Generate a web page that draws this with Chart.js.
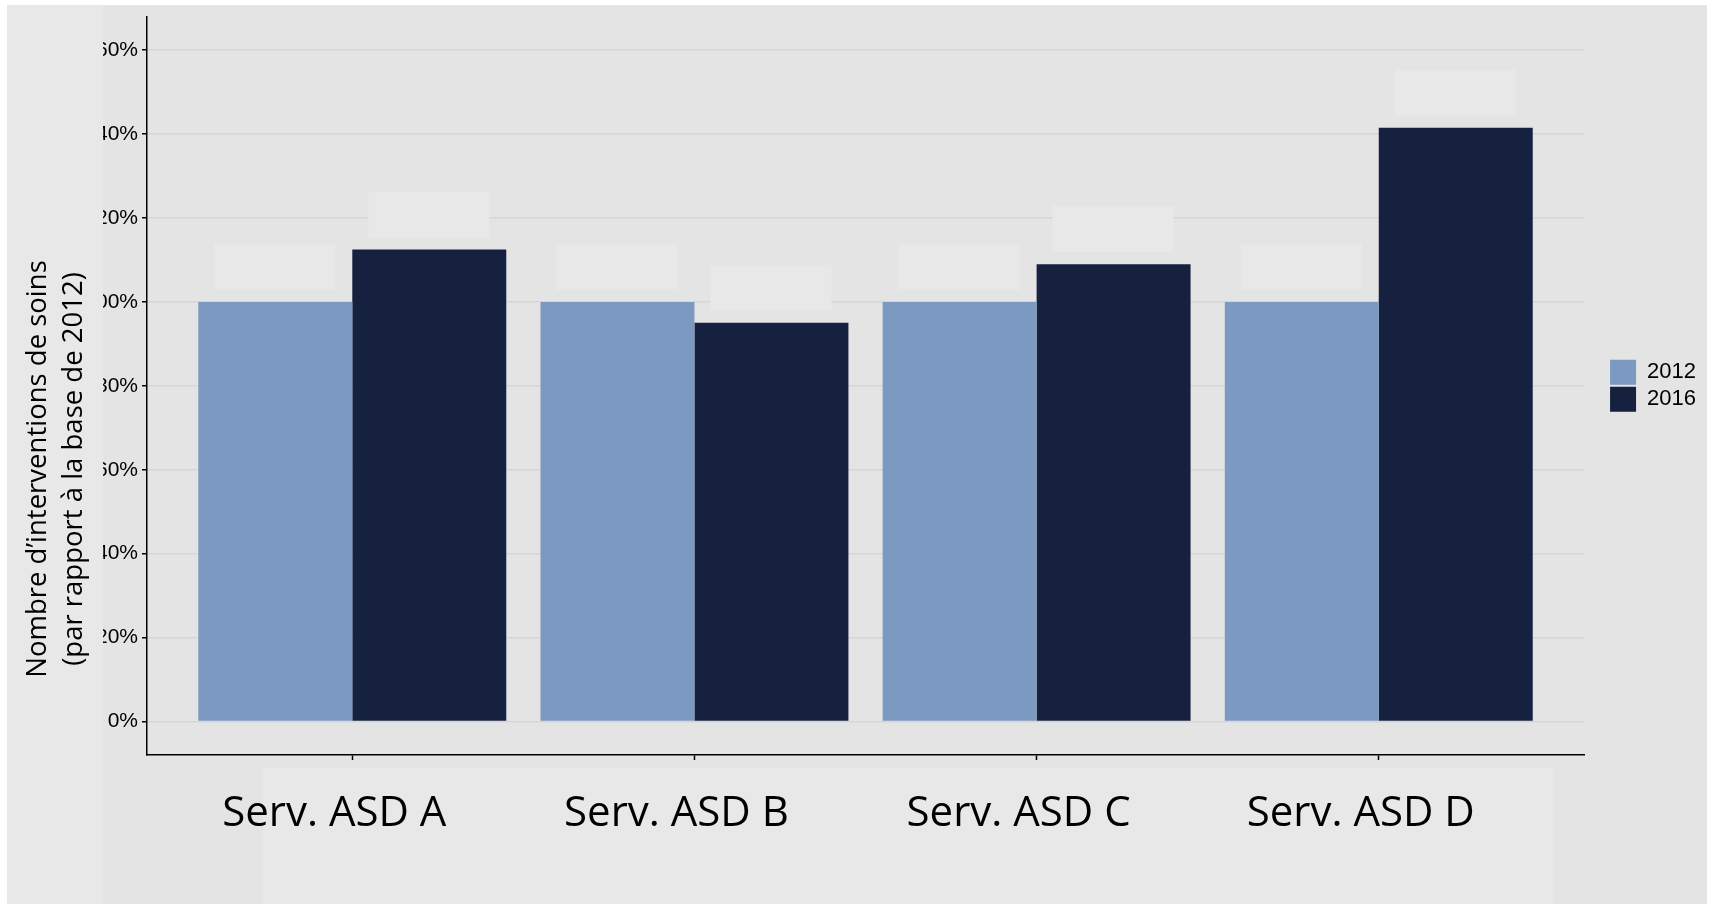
<!DOCTYPE html>
<html lang="fr">
<head>
<meta charset="utf-8">
<title>Interventions de soins 2012 / 2016</title>
<script src="https://cdn.jsdelivr.net/npm/chart.js@4.4.1/dist/chart.umd.min.js"></script>
<style>
  html, body { margin: 0; padding: 0; background: #fff; }
  #chart { display: block; }
</style>
</head>
<body>
<canvas id="chart" width="1712" height="904"></canvas>
<script>
// services ASD, volume relatif à 2012 (en %)
const categories = ['Serv. ASD A', 'Serv. ASD B', 'Serv. ASD C', 'Serv. ASD D'];
const years = ['2012', '2016'];
const values2012 = [100, 100, 100, 100];
const values2016 = [112.5, 95, 109, 141.5];
const yTicks = [0, 20, 40, 60, 80, 100, 120, 140, 160];

const yTitle = ['Nombre d\u2019interventions de soins', '(par rapport \u00e0 la base de 2012)'];

const BG = '#e4e4e4';
const PANEL = '#e8e8e8';
const tickFont = { family: '"Liberation Sans", Arial, sans-serif', size: 21 };
const catFont = { family: '"Open Sans", sans-serif', size: 42 };

const toPoints = arr => arr.map((v, i) => ({ x: i, y: v }));

// fond gris, cadre blanc, zone claire sous l'axe x
const backdrop = {
  id: 'backdrop',
  beforeDraw(chart) {
    const { ctx, width, height } = chart;
    ctx.save();
    ctx.fillStyle = '#fff';
    ctx.fillRect(0, 0, width, height);
    ctx.fillStyle = BG;
    ctx.fillRect(7, 5, width - 12, height - 5);
    ctx.fillStyle = PANEL;
    ctx.fillRect(263, 768, 1291, height - 768);
    ctx.restore();
  }
};

// cases vides au-dessus de chaque barre
const labelBoxes = {
  id: 'labelBoxes',
  beforeDatasetsDraw(chart) {
    const { ctx } = chart;
    ctx.save();
    ctx.fillStyle = PANEL;
    chart.data.datasets.forEach((ds, di) => {
      chart.getDatasetMeta(di).data.forEach(bar => {
        ctx.fillRect(bar.x - 61, bar.y - 12 - 46, 121, 46);
      });
    });
    ctx.restore();
  }
};

// bandeau gauche avec le titre de l'axe y (recouvre le début des graduations)
const yTitleBand = {
  id: 'yTitleBand',
  afterDraw(chart) {
    const { ctx, height } = chart;
    ctx.save();
    ctx.fillStyle = PANEL;
    ctx.fillRect(7, 5, 96, height - 5);
    ctx.fillStyle = '#000';
    ctx.font = '27.5px "Open Sans", sans-serif';
    ctx.textAlign = 'center';
    ctx.textBaseline = 'middle';
    [38.5, 74.5].forEach((x, i) => {
      ctx.save();
      ctx.translate(x, 469);
      ctx.rotate(-Math.PI / 2);
      ctx.fillText(yTitle[i], 0, 0);
      ctx.restore();
    });
    ctx.restore();
  }
};

new Chart(document.getElementById('chart'), {
  type: 'bar',
  data: {
    datasets: [
      { label: years[0], data: toPoints(values2012), backgroundColor: '#7b99c1', borderWidth: 0 },
      { label: years[1], data: toPoints(values2016), backgroundColor: '#15213f', borderWidth: 0 }
    ]
  },
  options: {
    responsive: false,
    animation: false,
    devicePixelRatio: 1,
    layout: { padding: { left: 0, top: 13, right: 6, bottom: 0 } },
    datasets: { bar: { barPercentage: 1, categoryPercentage: 0.9 } },
    plugins: {
      tooltip: { enabled: false },
      legend: {
        position: 'right',
        fullSize: false,
        labels: {
          boxWidth: 26, boxHeight: 25, padding: 2,
          color: '#000', font: { family: '"Liberation Sans", Arial, sans-serif', size: 22 }
        }
      }
    },
    scales: {
      x: {
        type: 'linear',
        min: -0.6, max: 3.6,
        offset: false,
        afterFit: s => { s.height = 149; },
        afterBuildTicks: s => { s.ticks = categories.map((_, i) => ({ value: i })); },
        grid: { display: true, offset: false, drawOnChartArea: false, color: 'transparent', tickColor: '#000', tickLength: 5, tickWidth: 1.5 },
        border: { color: '#000', width: 1.5 },
        ticks: {
          color: '#000', font: catFont, padding: 29, labelOffset: -18, maxRotation: 0,
          callback: v => categories[v]
        }
      },
      y: {
        min: -8, max: 168,
        afterFit: s => { s.width = 147; },
        afterBuildTicks: s => { s.ticks = yTicks.map(v => ({ value: v })); },
        grid: { color: '#d5d5d5', lineWidth: 1.5, tickColor: '#000', tickLength: 5, tickWidth: 1.5 },
        border: { color: '#000', width: 1.5 },
        ticks: { color: '#000', font: tickFont, padding: 4, callback: v => v + '%' }
      },
      gap: {
        type: 'linear',
        position: 'right',
        afterFit: s => { s.width = 24; },
        grid: { display: false },
        border: { display: false },
        ticks: { display: false }
      }
    }
  },
  plugins: [backdrop, labelBoxes, yTitleBand]
});
</script>
</body>
</html>
